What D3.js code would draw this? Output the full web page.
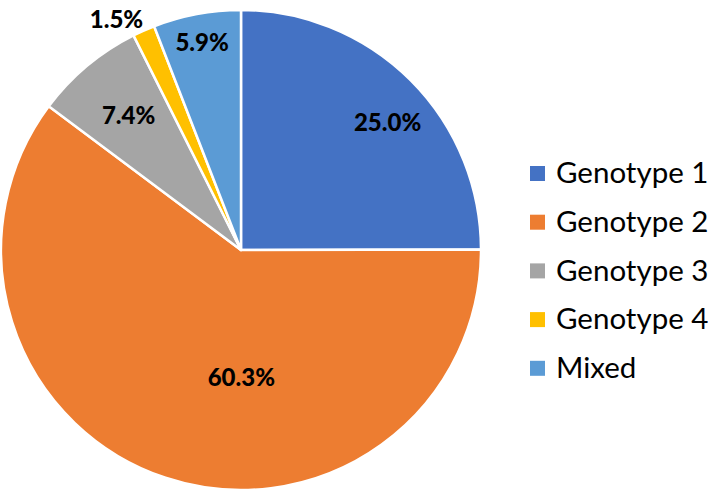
<!DOCTYPE html>
<html>
<head>
<meta charset="utf-8">
<script src="https://cdn.jsdelivr.net/npm/d3@7"></script>
<style>
  body { margin: 0; background: #fff; }
  svg { display: block; }
</style>
</head>
<body>
<div id="chart"></div>
<script>
// Data
var categories = ["Genotype 1", "Genotype 2", "Genotype 3", "Genotype 4", "Mixed"];
var values = [25.0, 60.3, 7.4, 1.5, 5.9];
var colors = ["#4472C4", "#ED7D31", "#A5A5A5", "#FFC000", "#5B9BD5"];

var width = 712, height = 492;
var cx = 241, cy = 250, radius = 240;

// label placement (radius factor, angle nudge in degrees), like Excel's best fit
var labelPlace = [
    {r: 0.81, da: 4},
    {r: 0.53, da: -18.5},
    {r: 0.73, da: 0},
    {r: 1.09, da: -4.5},
    {r: 0.88, da: 0}
];

var svg = d3.select("#chart").append("svg")
    .attr("width", width)
    .attr("height", height);

var data = categories.map(function(c, i) { return {name: c, value: values[i], color: colors[i]}; });

var pie = d3.pie()
    .sort(null)
    .value(function(d) { return d.value; });

var arc = d3.arc()
    .innerRadius(0)
    .outerRadius(radius);

var g = svg.append("g")
    .attr("transform", "translate(" + cx + "," + cy + ")");

var arcs = pie(data);

g.selectAll("path")
    .data(arcs)
    .enter().append("path")
    .attr("d", arc)
    .attr("fill", function(d) { return d.data.color; })
    .attr("stroke", "#fff")
    .attr("stroke-width", 2.5)
    .attr("stroke-linejoin", "round");

g.selectAll("text.lbl")
    .data(arcs)
    .enter().append("text")
    .attr("class", "lbl")
    .attr("x", function(d, i) {
        var a = (d.startAngle + d.endAngle) / 2 + labelPlace[i].da * Math.PI / 180;
        return Math.sin(a) * radius * labelPlace[i].r;
    })
    .attr("y", function(d, i) {
        var a = (d.startAngle + d.endAngle) / 2 + labelPlace[i].da * Math.PI / 180;
        return -Math.cos(a) * radius * labelPlace[i].r;
    })
    .attr("dy", "0.35em")
    .attr("text-anchor", "middle")
    .style("font-family", "Lato, 'Open Sans', sans-serif")
    .style("font-weight", "900")
    .style("font-size", "24px")
    .attr("fill", "#000")
    .text(function(d) { return d3.format(".1f")(d.data.value) + "%"; });

// Legend
var legend = svg.append("g")
    .attr("transform", "translate(530,173)");

var rows = legend.selectAll("g")
    .data(data)
    .enter().append("g")
    .attr("transform", function(d, i) { return "translate(0," + (i * 48.7) + ")"; });

rows.append("rect")
    .attr("x", 0)
    .attr("y", -7)
    .attr("width", 15)
    .attr("height", 15)
    .attr("fill", function(d) { return d.color; });

rows.append("text")
    .attr("x", 26)
    .attr("y", 0)
    .attr("dy", "0.35em")
    .style("font-family", "Lato, 'Open Sans', sans-serif")
    .style("font-size", "29.5px")
    .attr("fill", "#000")
    .text(function(d) { return d.name; });
</script>
</body>
</html>
